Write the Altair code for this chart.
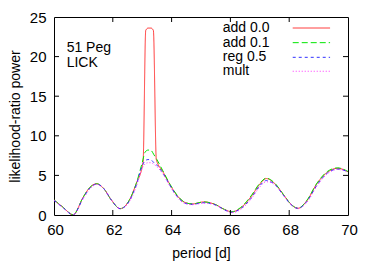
import altair as alt
import pandas as pd

series_names = ["add 0.0", "add 0.1", "reg 0.5", "mult"]
series_colors = ["#ff2a2a", "#00e600", "#3030ff", "#ff30ff"]
series_dashes = [[1, 0], [6, 3], [3, 3], [1, 2]]

red_period = [60.0, 60.3, 60.65, 61.0, 61.2, 61.45, 61.7, 61.95, 62.25, 62.55, 62.8, 63.03, 63.12,
              63.2, 63.3, 63.38, 63.48, 63.7, 63.95, 64.2, 64.45, 64.7, 65.1, 65.5, 65.8, 66.05,
              66.35, 66.7, 67.0, 67.22, 67.5, 67.8, 68.05, 68.3, 68.6, 68.95, 69.3, 69.65, 70.0]
red_power = [1.9, 1.0, 0.03, 2.3, 3.4, 3.95, 3.3, 1.9, 0.8, 1.8, 4.0, 6.7, 23.3,
             23.6, 23.6, 23.3, 7.0, 5.5, 3.8, 2.4, 1.6, 1.4, 1.65, 1.3, 0.7, 0.4,
             0.9, 2.3, 3.9, 4.6, 4.0, 2.6, 1.4, 0.85, 1.8, 4.0, 5.4, 5.9, 5.45]

common_period = [60.0, 60.3, 60.65, 61.0, 61.2, 61.45, 61.7, 61.95, 62.25, 62.55, 62.8, 63.0, 63.1,
                 63.2, 63.3, 63.4, 63.5, 63.7, 63.95, 64.2, 64.45, 64.7, 65.1, 65.5, 65.8, 66.05,
                 66.35, 66.7, 67.0, 67.22, 67.5, 67.8, 68.05, 68.3, 68.6, 68.95, 69.3, 69.65, 70.0]
green_power = [1.9, 1.0, 0.05, 2.3, 3.4, 3.95, 3.3, 1.9, 0.8, 1.8, 4.0, 6.6, 7.95,
               8.2, 8.15, 7.6, 7.0, 5.6, 3.85, 2.45, 1.6, 1.4, 1.65, 1.3, 0.7, 0.4,
               0.95, 2.4, 4.0, 4.65, 4.05, 2.6, 1.4, 0.85, 1.85, 4.05, 5.5, 5.95, 5.5]
blue_power = [1.85, 0.95, 0.02, 2.2, 3.3, 3.9, 3.3, 1.9, 0.8, 1.7, 3.8, 6.2, 6.85,
              7.0, 6.95, 6.6, 6.3, 5.3, 3.7, 2.3, 1.5, 1.35, 1.55, 1.25, 0.65, 0.35,
              0.8, 2.1, 3.7, 4.35, 3.9, 2.5, 1.35, 0.85, 1.7, 3.8, 5.3, 5.8, 5.45]
magenta_power = [1.85, 0.95, 0.02, 2.1, 3.2, 3.85, 3.3, 1.95, 0.8, 1.6, 3.6, 5.9, 6.45,
                 6.6, 6.6, 6.4, 6.1, 5.2, 3.6, 2.2, 1.45, 1.3, 1.5, 1.25, 0.65, 0.3,
                 0.7, 2.0, 3.55, 4.2, 3.85, 2.5, 1.35, 0.8, 1.6, 3.7, 5.2, 5.75, 5.45]

x_ticks = [62, 64, 66, 68]
y_ticks = [5, 10, 15, 20]
x_labels = [60, 62, 64, 66, 68, 70]
y_labels = [0, 5, 10, 15, 20, 25]

legend_y = [23.61, 21.76, 19.91, 18.15]
note_lines = ["51 Peg", "LICK"]
note_y = [21.05, 19.2]

W, H = 294, 198
FONT = "Liberation Sans"

series_data = [
    (series_names[0], red_period, red_power),
    (series_names[1], common_period, green_power),
    (series_names[2], common_period, blue_power),
    (series_names[3], common_period, magenta_power),
]

x_scale = alt.Scale(domain=[60, 70], nice=False, zero=False)
y_scale = alt.Scale(domain=[0, 25], nice=False)
color_scale = alt.Scale(domain=series_names, range=series_colors)
dash_scale = alt.Scale(domain=series_names, range=series_dashes)

xa = alt.Axis(values=x_labels, title="period [d]", labelPadding=7, titlePadding=9,
              labelFlush=False, labelOffset=1)
ya = alt.Axis(values=y_labels, title="likelihood-ratio power", labelPadding=8, titlePadding=7,
              labelFlush=False)


def X(field):
    return alt.X(field, type="quantitative", scale=x_scale, axis=xa, title="period [d]")


def Y(field):
    return alt.Y(field, type="quantitative", scale=y_scale, axis=ya, title="likelihood-ratio power")


layers = []
for name, per, pw in series_data:
    d = pd.DataFrame({"period": per, "power": pw, "series": name})
    layers.append(
        alt.Chart(d).mark_line(strokeWidth=1, interpolate="monotone", clip=True).encode(
            x=X("period"),
            y=Y("power"),
            color=alt.Color("series:N", scale=color_scale, legend=None),
            strokeDash=alt.StrokeDash("series:N", scale=dash_scale, legend=None),
        )
    )

tx = 5 / W * 10
ty = 5 / H * 25
xt = pd.DataFrame({"v": x_ticks, "b0": 0.0, "b1": ty, "t0": 25.0, "t1": 25 - ty})
yt = pd.DataFrame({"v": y_ticks, "l0": 60.0, "l1": 60 + tx, "r0": 70.0, "r1": 70 - tx})

bottom = alt.Chart(xt).mark_rule(color="black", strokeWidth=1).encode(
    x=X("v"), y=Y("b0"), y2="b1")
top = alt.Chart(xt).mark_rule(color="black", strokeWidth=1).encode(
    x=X("v"), y=Y("t0"), y2="t1")
left = alt.Chart(yt).mark_rule(color="black", strokeWidth=1).encode(
    y=Y("v"), x=X("l0"), x2="l1")
right = alt.Chart(yt).mark_rule(color="black", strokeWidth=1).encode(
    y=Y("v"), x=X("r0"), x2="r1")

leg = pd.DataFrame({"series": series_names, "y": legend_y, "tx": 65.74, "x1": 68.12, "x2": 69.39})
leg_text = alt.Chart(leg).mark_text(align="left", baseline="middle", font=FONT, fontSize=14,
                                    color="black").encode(
    x=X("tx"), y=Y("y"), text="series:N")
leg_line = alt.Chart(leg).mark_rule(strokeWidth=1).encode(
    x=X("x1"), x2="x2", y=Y("y"),
    color=alt.Color("series:N", scale=color_scale, legend=None),
    strokeDash=alt.StrokeDash("series:N", scale=dash_scale, legend=None))

notes = pd.DataFrame({"t": note_lines, "y": note_y, "x": 60.43})
note_text = alt.Chart(notes).mark_text(align="left", baseline="middle", font=FONT, fontSize=14,
                                       color="black").encode(
    x=X("x"), y=Y("y"), text="t:N")

chart = alt.layer(*layers, bottom, top, left, right, leg_line, leg_text, note_text).properties(
    width=W, height=H,
    autosize=alt.AutoSizeParams(type="none"),
    padding={"left": 46, "top": 9, "right": 18, "bottom": 50},
).configure_view(stroke="black", strokeWidth=1).configure_axis(
    grid=False, domain=False, ticks=False,
    labelFont=FONT, labelFontSize=15, labelColor="black",
    titleFont=FONT, titleFontSize=14, titleFontWeight="normal", titleColor="black",
)

chart.save("out.html", embed_options={"renderer": "svg", "actions": False})
